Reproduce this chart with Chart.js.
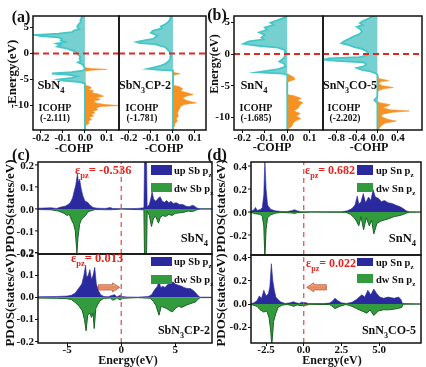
<!DOCTYPE html>
<html lang="en">
<head>
<meta charset="UTF-8">
<title>COHP and PDOS</title>
<script src="https://cdn.jsdelivr.net/npm/chart.js"></script>
<style>
  body { margin: 0; background: #fff; }
  #wrap { position: relative; width: 426px; height: 367px; background: #fff; }
  #wrap canvas { position: absolute; left: 0; top: 0; }
</style>
</head>
<body>
<div id="wrap">
  <canvas id="a1" width="426" height="367"></canvas>
  <canvas id="a2" width="426" height="367"></canvas>
  <canvas id="b1" width="426" height="367"></canvas>
  <canvas id="b2" width="426" height="367"></canvas>
  <canvas id="c1" width="426" height="367"></canvas>
  <canvas id="c2" width="426" height="367"></canvas>
  <canvas id="d1" width="426" height="367"></canvas>
  <canvas id="d2" width="426" height="367"></canvas>
</div>
<script>
// ---- data: [energy (eV), value] ----
const fermiLevel = 0;

// -COHP, negative part (cyan) and positive part (orange)
const sbn4Anti = [[7.2,-0.012],[6.6,-0.018],[6.0,-0.02],[5.5,-0.03],[5.1,-0.035],[4.7,-0.025],[4.4,-0.05],[4.1,-0.06],[3.8,-0.12],[3.55,-0.225],[3.35,-0.2],[3.1,-0.12],[2.8,-0.105],[2.5,-0.11],[2.2,-0.09],[1.9,-0.13],[1.6,-0.11],[1.3,-0.125],[1.0,-0.085],[0.7,-0.065],[0.4,-0.045],[0.1,-0.038],[-0.3,-0.028],[-0.7,-0.02],[-1.0,-0.025],[-1.4,-0.018],[-1.7,-0.032],[-2.0,-0.015],[-2.4,-0.005],[-2.9,0],[-3.3,-0.01],[-3.6,-0.06],[-3.85,-0.15],[-4.1,-0.07],[-4.4,-0.035],[-4.7,-0.06],[-5.0,-0.12],[-5.2,-0.1],[-5.5,-0.02],[-5.8,0],[-14.7,0]];
const sbn4Bond = [[-2.7,0],[-2.9,0.03],[-3.05,0.1],[-3.2,0.03],[-3.4,0],[-6.1,0],[-6.3,0.02],[-6.6,0.03],[-6.9,0.015],[-7.2,0.04],[-7.5,0.03],[-7.8,0.06],[-8.2,0.085],[-8.5,0.05],[-8.8,0.07],[-9.2,0.04],[-9.5,0.05],[-9.8,0.09],[-10.0,0.155],[-10.2,0.07],[-10.5,0.05],[-10.8,0.06],[-11.1,0.035],[-11.4,0.045],[-11.7,0.03],[-12.0,0.04],[-12.3,0.02],[-12.7,0.03],[-13.0,0.015],[-13.4,0.02],[-13.8,0.005],[-14.7,0]];

const sbn3cpAnti = [[7.2,-0.01],[6.6,-0.012],[6.1,-0.02],[5.6,-0.035],[5.2,-0.055],[4.8,-0.05],[4.4,-0.09],[4.0,-0.1],[3.7,-0.085],[3.4,-0.07],[3.1,-0.08],[2.8,-0.09],[2.5,-0.13],[2.2,-0.165],[2.0,-0.15],[1.8,-0.08],[1.5,-0.06],[1.2,-0.035],[0.8,-0.025],[0.3,-0.015],[-0.5,-0.01],[-1.0,-0.012],[-1.5,-0.02],[-2.0,-0.035],[-2.4,-0.06],[-2.7,-0.09],[-2.95,-0.115],[-3.15,-0.06],[-3.3,0],[-14.7,0]];
const sbn3cpBond = [[-3.5,0],[-3.7,0.01],[-3.9,0.032],[-4.1,0.01],[-4.3,0],[-6.1,0],[-6.4,0.03],[-6.8,0.045],[-7.2,0.035],[-7.6,0.07],[-7.9,0.092],[-8.2,0.06],[-8.6,0.045],[-9.0,0.06],[-9.5,0.105],[-9.8,0.05],[-10.2,0.035],[-10.6,0.03],[-11.0,0.025],[-11.5,0.02],[-12.0,0.025],[-12.5,0.015],[-13.0,0.02],[-13.5,0.008],[-14.0,0.005],[-14.7,0]];

const snn4Anti = [[6.0,-0.005],[5.7,-0.015],[5.3,-0.045],[4.95,-0.075],[4.6,-0.06],[4.2,-0.1],[3.8,-0.09],[3.4,-0.125],[3.0,-0.1],[2.6,-0.115],[2.3,-0.105],[2.0,-0.17],[1.6,-0.195],[1.3,-0.13],[1.0,-0.04],[0.6,-0.01],[0.0,-0.01],[-0.5,-0.012],[-0.8,-0.02],[-1.2,-0.035],[-1.5,-0.015],[-2.0,-0.008],[-2.4,-0.04],[-2.7,-0.1],[-2.9,-0.135],[-3.1,-0.02],[-3.3,0],[-12,0]];
const snn4Bond = [[-3.1,0],[-3.4,0.015],[-3.7,0.03],[-4.0,0.035],[-4.3,0.01],[-4.5,0],[-6.4,0],[-6.6,0.03],[-7.0,0.062],[-7.3,0.045],[-7.7,0.07],[-8.1,0.055],[-8.5,0.05],[-9.0,0.03],[-9.4,0.058],[-9.8,0.04],[-10.2,0.06],[-10.6,0.035],[-11.0,0.025],[-11.4,0.02],[-11.7,0.01],[-12,0]];

const snn3coAnti = [[6.0,-0.08],[5.6,-0.17],[5.2,-0.28],[4.9,-0.34],[4.6,-0.28],[4.3,-0.4],[3.9,-0.33],[3.5,-0.3],[3.1,-0.36],[2.7,-0.48],[2.3,-0.58],[2.0,-0.65],[1.7,-0.7],[1.4,-0.55],[1.1,-0.45],[0.8,-0.3],[0.5,-0.22],[0.2,-0.18],[-0.2,-0.2],[-0.5,-0.35],[-0.7,-0.95],[-0.9,-1.05],[-1.1,-0.8],[-1.3,-0.27],[-1.6,-0.22],[-1.9,-0.25],[-2.2,-0.4],[-2.5,-0.3],[-2.8,-0.12],[-3.1,-0.02],[-3.3,0],[-6.8,0],[-7.0,-0.03],[-7.3,-0.06],[-7.6,-0.02],[-7.8,0],[-12,0]];
const snn3coBond = [[-3.3,0],[-3.6,0.01],[-3.9,0.04],[-4.2,0.22],[-4.4,0.06],[-4.7,0.03],[-5.0,0.1],[-5.3,0.31],[-5.5,0.12],[-5.8,0.02],[-6.1,0],[-7.5,0],[-7.7,0.05],[-8.0,0.25],[-8.2,0.2],[-8.5,0.1],[-8.8,0.25],[-9.0,0.62],[-9.2,0.3],[-9.5,0.1],[-9.9,0.08],[-10.3,0.2],[-10.6,0.37],[-10.9,0.15],[-11.3,0.08],[-11.7,0.04],[-12,0.02]];

// PDOS of p_z, spin up (positive) and spin down (negative)
const sbn4Up = [[-7.7,0.003],[-6.5,0.005],[-6.0,0.002],[-5.6,0.008],[-5.2,0.012],[-4.9,0.02],[-4.7,0.03],[-4.5,0.05],[-4.35,0.08],[-4.2,0.11],[-4.05,0.16],[-3.95,0.12],[-3.85,0.135],[-3.7,0.09],[-3.55,0.06],[-3.35,0.035],[-3.1,0.03],[-2.9,0.018],[-2.6,0.006],[-2.2,0.003],[-1.5,0.002],[-1.0,0.006],[-0.8,0.002],[0,0.001],[1.5,0.002],[2.1,0.005],[2.18,0.3],[2.32,0.3],[2.4,0.01],[2.6,0.02],[2.75,0.05],[2.85,0.08],[3.0,0.045],[3.2,0.035],[3.45,0.05],[3.6,0.055],[3.8,0.035],[4.0,0.03],[4.2,0.038],[4.4,0.028],[4.6,0.035],[4.8,0.025],[5.1,0.028],[5.4,0.02],[5.7,0.02],[6.0,0.012],[6.3,0.01],[6.6,0.016],[6.8,0.012],[7.0,0.004],[7.3,0.001],[8.4,0.001]];
const sbn4Dw = [[-7.7,-0.003],[-6.5,-0.004],[-5.8,-0.01],[-5.3,-0.02],[-5.0,-0.03],[-4.8,-0.025],[-4.6,-0.05],[-4.4,-0.07],[-4.25,-0.1],[-4.1,-0.2],[-4.0,-0.13],[-3.85,-0.07],[-3.7,-0.05],[-3.5,-0.04],[-3.3,-0.03],[-3.1,-0.015],[-2.8,-0.008],[-2.4,-0.003],[-1.0,-0.004],[0,-0.001],[2.1,-0.004],[2.18,-0.3],[2.32,-0.3],[2.4,-0.01],[2.6,-0.03],[2.8,-0.08],[3.0,-0.04],[3.2,-0.035],[3.45,-0.065],[3.6,-0.04],[3.85,-0.03],[4.1,-0.035],[4.4,-0.025],[4.7,-0.03],[5.0,-0.02],[5.4,-0.018],[5.8,-0.015],[6.2,-0.01],[6.6,-0.012],[7.0,-0.004],[7.3,-0.001],[8.4,-0.001]];

const sbn3cpUp = [[-7.7,0.003],[-6.0,0.004],[-5.0,0.006],[-4.6,0.01],[-4.25,0.02],[-3.95,0.04],[-3.65,0.06],[-3.45,0.1],[-3.3,0.145],[-3.2,0.09],[-3.05,0.1],[-2.9,0.125],[-2.75,0.08],[-2.6,0.1],[-2.45,0.135],[-2.3,0.06],[-2.1,0.03],[-1.9,0.012],[-1.6,0.004],[-1.2,0.003],[-0.8,0.01],[-0.6,0.012],[-0.4,0.002],[-0.1,0.01],[0.1,0.004],[0.5,0.002],[1.5,0.001],[2.5,0.004],[2.8,0.012],[3.1,0.035],[3.35,0.05],[3.5,0.075],[3.65,0.045],[3.85,0.05],[4.05,0.045],[4.3,0.058],[4.55,0.062],[4.8,0.07],[5.0,0.06],[5.3,0.055],[5.6,0.05],[5.8,0.045],[6.1,0.04],[6.4,0.04],[6.7,0.03],[6.9,0.02],[7.1,0.008],[7.3,0.001],[8.4,0.001]];
const sbn3cpDw = [[-7.7,-0.003],[-6.0,-0.004],[-5.0,-0.006],[-4.6,-0.01],[-4.2,-0.025],[-3.9,-0.04],[-3.6,-0.06],[-3.4,-0.1],[-3.25,-0.15],[-3.1,-0.08],[-2.9,-0.07],[-2.75,-0.09],[-2.6,-0.07],[-2.5,-0.14],[-2.35,-0.05],[-2.15,-0.03],[-1.95,-0.015],[-1.6,-0.004],[-1.0,-0.003],[-0.8,-0.012],[-0.6,-0.01],[-0.4,-0.002],[-0.1,-0.012],[0.1,-0.004],[1.5,-0.001],[2.7,-0.004],[3.0,-0.02],[3.2,-0.035],[3.5,-0.08],[3.7,-0.04],[3.95,-0.045],[4.2,-0.05],[4.5,-0.06],[4.75,-0.065],[5.0,-0.05],[5.3,-0.04],[5.6,-0.045],[6.0,-0.035],[6.3,-0.03],[6.6,-0.025],[6.9,-0.02],[7.1,-0.008],[7.3,-0.001],[8.4,-0.001]];

const snn4Up = [[-3.5,0.005],[-3.3,0.02],[-3.2,0.04],[-3.1,0.015],[-2.9,0.02],[-2.75,0.04],[-2.65,0.15],[-2.58,0.45],[-2.5,0.2],[-2.4,0.06],[-2.2,0.025],[-1.9,0.01],[-1.5,0.005],[-1.1,0.004],[-0.8,0.012],[-0.6,0.02],[-0.45,0.01],[-0.2,0.003],[0.5,0.002],[2.5,0.002],[2.9,0.01],[3.2,0.03],[3.4,0.06],[3.55,0.14],[3.65,0.07],[3.8,0.09],[3.95,0.16],[4.1,0.08],[4.3,0.13],[4.45,0.1],[4.6,0.195],[4.75,0.13],[4.95,0.12],[5.15,0.09],[5.35,0.1],[5.6,0.08],[5.85,0.075],[6.1,0.06],[6.4,0.045],[6.6,0.03],[6.8,0.01],[7.0,0.002],[7.8,0.001]];
const snn4Dw = [[-3.5,-0.004],[-3.2,-0.015],[-2.9,-0.02],[-2.75,-0.04],[-2.65,-0.12],[-2.58,-0.4],[-2.5,-0.15],[-2.4,-0.05],[-2.2,-0.025],[-1.9,-0.01],[-1.5,-0.004],[-0.8,-0.008],[-0.6,-0.012],[-0.4,-0.005],[0.5,-0.001],[2.8,-0.003],[3.1,-0.02],[3.35,-0.05],[3.5,-0.08],[3.65,-0.12],[3.8,-0.04],[3.97,-0.155],[4.15,-0.05],[4.35,-0.12],[4.5,-0.07],[4.65,-0.19],[4.85,-0.1],[5.1,-0.08],[5.35,-0.07],[5.6,-0.06],[6.0,-0.04],[6.4,-0.03],[6.8,-0.01],[7.0,-0.002],[7.8,-0.001]];

const snn3coUp = [[-3.5,0.005],[-3.3,0.01],[-3.1,0.03],[-2.95,0.07],[-2.8,0.05],[-2.65,0.12],[-2.5,0.07],[-2.35,0.09],[-2.25,0.15],[-2.15,0.35],[-2.05,0.2],[-1.95,0.12],[-1.85,0.06],[-1.7,0.04],[-1.55,0.02],[-1.25,0.005],[-0.9,0.01],[-0.7,0.02],[-0.5,0.01],[-0.3,0.005],[-0.15,0.015],[0.1,0.012],[0.3,0.005],[0.7,0.004],[1.3,0.004],[1.7,0.008],[1.9,0.025],[2.07,0.05],[2.25,0.03],[2.5,0.01],[2.85,0.005],[3.2,0.015],[3.5,0.04],[3.85,0.08],[4.05,0.06],[4.25,0.12],[4.45,0.08],[4.65,0.13],[4.85,0.09],[5.05,0.06],[5.3,0.05],[5.6,0.06],[6.0,0.05],[6.3,0.06],[6.45,0.04],[6.55,0.005],[7.8,0.001]];
const snn3coDw = [[-3.5,-0.004],[-3.1,-0.02],[-2.9,-0.05],[-2.65,-0.07],[-2.45,-0.06],[-2.3,-0.12],[-2.2,-0.22],[-2.12,-0.36],[-2.0,-0.15],[-1.85,-0.08],[-1.7,-0.03],[-1.45,-0.01],[-1.1,-0.004],[-0.9,-0.01],[-0.65,-0.02],[-0.45,-0.008],[-0.15,-0.015],[0.15,-0.01],[0.4,-0.003],[1.7,-0.005],[1.85,-0.015],[2.07,-0.04],[2.4,-0.02],[2.8,-0.004],[3.2,-0.02],[3.5,-0.04],[3.85,-0.06],[4.2,-0.08],[4.4,-0.05],[4.65,-0.1],[4.95,-0.06],[5.3,-0.05],[5.7,-0.05],[6.2,-0.04],[6.5,-0.03],[6.6,-0.002],[7.8,-0.001]];

// axis limits and tick labels
const cohpRangeA1 = [-0.236, 0.155];
const cohpRangeA2 = [-0.245, 0.15];
const cohpRangeB1 = [-0.237, 0.159];
const cohpRangeB2 = [-1.06, 0.87];
const energyRangeA = [-14.7, 7.2];
const energyRangeB = [-12, 6];
const cohpTicksSmall = [-0.2, -0.1, 0, 0.1];
const cohpTicksLarge = [-0.8, -0.4, 0, 0.4];
const energyTicksCohp = [5, 0, -5, -10];
const energyRangeC = [-7.7, 8.4];
const energyRangeD = [-3.5, 7.78];
const energyTicksC = [-5, 0, 5];
const energyTicksD = [-2.5, 0, 2.5, 5];
const pdosRangeC1 = [-0.205, 0.213];
const pdosRangeC2 = [-0.205, 0.195];
const pdosRangeD1 = [-0.374, 0.435];
const pdosRangeD2 = [-0.339, 0.426];
const pdosTicksC = [-0.2, -0.1, 0, 0.1, 0.2];
const pdosTicksD = [-0.2, 0, 0.2, 0.4];
// shift arrows: [from energy, to energy, height]
const arrowSb = [-2.1, -0.15, 0.045];
const arrowSn = [1.5, 0.2, 0.145];

// ---- drawing ----
const W = 426, H = 367;
const SERIF = '"Liberation Serif", "Times New Roman", serif';
const CYAN = 'rgb(118,208,208)', CYAN_LINE = 'rgb(70,198,198)', ORANGE = 'rgb(247,146,34)';
const NAVY = 'rgb(42,42,158)', GREEN = 'rgb(50,155,62)', GREEN_LINE = 'rgb(26,96,36)';
const RED = 'rgb(226,38,32)';
const charts = {};

const cohpPts = list => list.map(([e, v]) => ({x: v, y: e}));
const dosPts = list => list.map(([e, v]) => ({x: e, y: v}));
const f1 = v => v.toFixed(1);
const f0 = v => String(v);

function richText(ctx, str, x, y, size, color, align, rot) {
  const parts = [];
  str.split(/(_\{[^}]*\})/).forEach(p => {
    if (!p) return;
    if (p.startsWith('_{')) parts.push({t: p.slice(2, -1), sub: true});
    else parts.push({t: p, sub: false});
  });
  ctx.save();
  ctx.translate(x, y);
  if (rot) ctx.rotate(rot * Math.PI / 180);
  ctx.fillStyle = color;
  ctx.textAlign = 'left';
  ctx.textBaseline = 'alphabetic';
  let total = 0;
  parts.forEach(p => {
    ctx.font = 'bold ' + (p.sub ? size * 0.68 : size) + 'px ' + SERIF;
    p.w = ctx.measureText(p.t).width;
    total += p.w;
  });
  let cx = align === 'center' ? -total / 2 : align === 'right' ? -total : 0;
  parts.forEach(p => {
    ctx.font = 'bold ' + (p.sub ? size * 0.68 : size) + 'px ' + SERIF;
    ctx.fillText(p.t, cx, size * 0.35 + (p.sub ? size * 0.28 : 0));
    cx += p.w;
  });
  ctx.restore();
}

function drawArrow(chart, a) {
  const ctx = chart.ctx;
  const x1 = chart.scales.x.getPixelForValue(a[0]);
  const x2 = chart.scales.x.getPixelForValue(a[1]);
  const y = chart.scales.y.getPixelForValue(a[2]);
  const dir = Math.sign(x2 - x1), head = 7, hw = 4.5, sw = 2.6;
  const g = ctx.createLinearGradient(0, y - hw, 0, y + hw);
  g.addColorStop(0, '#f7c9a6');
  g.addColorStop(0.5, '#e9865a');
  g.addColorStop(1, '#f3b08a');
  ctx.save();
  ctx.beginPath();
  ctx.moveTo(x1, y - sw);
  ctx.lineTo(x2 - dir * head, y - sw);
  ctx.lineTo(x2 - dir * head, y - hw);
  ctx.lineTo(x2, y);
  ctx.lineTo(x2 - dir * head, y + hw);
  ctx.lineTo(x2 - dir * head, y + sw);
  ctx.lineTo(x1, y + sw);
  ctx.closePath();
  ctx.fillStyle = g;
  ctx.fill();
  ctx.strokeStyle = '#b9573b';
  ctx.lineWidth = 0.8;
  ctx.stroke();
  ctx.restore();
}

const framePlugin = {
  id: 'frame',
  afterDatasetsDraw(chart) {
    const {ctx, chartArea: a} = chart;
    ctx.save();
    ctx.strokeStyle = '#111';
    ctx.lineWidth = 1.5;
    ctx.strokeRect(a.left, a.top, a.right - a.left, a.bottom - a.top);
    ctx.restore();
  }
};

// y tick labels of another chart's y scale, written on this (later, upper) canvas
function drawYLabels(ctx, src, ticks, fmt) {
  if (!src) return;
  const a = src.chartArea, y = src.scales.y;
  ticks.forEach(v => {
    const py = y.getPixelForValue(v);
    richText(ctx, fmt(v), a.left - 4, py, 11, '#111', 'right', 0);
    ctx.save();
    ctx.strokeStyle = '#111';
    ctx.lineWidth = 1;
    ctx.beginPath();
    ctx.moveTo(a.left - 3, py);
    ctx.lineTo(a.left, py);
    ctx.stroke();
    ctx.restore();
  });
}

const topLabelsPlugin = {
  id: 'topLabels',
  afterDraw(chart) {
    drawYLabels(chart.ctx, charts.c1, pdosTicksC, f1);
    drawYLabels(chart.ctx, charts.d1, pdosTicksD, f1);
  }
};

function notesPlugin(items) {
  return {
    id: 'notes',
    afterDraw(chart) {
      const ctx = chart.ctx;
      items.forEach(it => {
        if (it.box) {
          ctx.fillStyle = it.c;
          ctx.fillRect(it.box[0], it.box[1], it.box[2], it.box[3]);
        } else if (it.arrow) {
          drawArrow(chart, it.arrow);
        } else {
          richText(ctx, it.t, it.x, it.y, it.s || 12, it.c || '#111', it.al || 'center', it.rot || 0);
        }
      });
    }
  };
}

// axis box size is fixed in afterFit; a "hidden" axis keeps its box but draws no labels or ticks
function axis(range, ticks, fmt, fit, show, pad) {
  return {
    type: 'linear',
    min: range[0],
    max: range[1],
    afterBuildTicks: s => { s.ticks = ticks.map(v => ({value: v})); },
    afterFit: fit,
    grid: {display: show, drawOnChartArea: false, drawTicks: show, tickLength: 3, color: '#111'},
    border: {display: false},
    ticks: {display: show, font: {family: SERIF, size: 11, weight: 'bold'}, color: '#111', padding: pad,
            autoSkip: false, maxRotation: 0, callback: v => fmt(v)}
  };
}

function build(id, o) {
  const a = o.area;
  const yShow = o.yShow !== false && !o.yManual, xShow = o.xShow !== false;
  const plugins = [framePlugin, notesPlugin(o.notes || [])].concat(o.extra || []);
  charts[id] = new Chart(document.getElementById(id), {
    type: 'line',
    data: {datasets: o.datasets},
    options: {
      responsive: false,
      animation: false,
      events: [],
      indexAxis: o.indexAxis || 'x',
      layout: {padding: {left: 0, top: a.t, right: W - a.r, bottom: 0}},
      elements: {point: {radius: 0}, line: {tension: 0}},
      scales: {
        x: axis(o.xr, o.xTicks, o.xFmt, s => { s.height = H - a.b; }, xShow, o.xPad || 0),
        y: axis(o.yr, o.yTicks, o.yFmt, s => { s.width = a.l; }, yShow, 1)
      },
      plugins: {legend: {display: false}, tooltip: {enabled: false}}
    },
    plugins: plugins
  });
  return charts[id];
}

function cohpSets(anti, bond, range) {
  return [
    {data: [{x: range[0], y: fermiLevel}, {x: range[1], y: fermiLevel}], borderColor: RED,
     borderWidth: 1.8, borderDash: [6, 4], fill: false},
    {data: cohpPts(anti), borderColor: CYAN_LINE, borderWidth: 1.8, backgroundColor: CYAN, fill: 'origin'},
    {data: cohpPts(bond), borderColor: ORANGE, borderWidth: 0.6, backgroundColor: ORANGE, fill: 'origin'}
  ];
}

function pdosSets(up, dw, range) {
  return [
    {data: [{x: fermiLevel, y: range[0]}, {x: fermiLevel, y: range[1]}], borderColor: 'rgb(230,70,70)',
     borderWidth: 1.2, borderDash: [5, 4], fill: false},
    {data: dosPts(dw), borderColor: GREEN_LINE, borderWidth: 1, backgroundColor: GREEN, fill: 'origin'},
    {data: dosPts(up), borderColor: NAVY, borderWidth: 0.6, backgroundColor: NAVY, fill: 'origin'}
  ];
}

// (a) SbN4 / SbN3CP-2 COHP
build('a1', {
  indexAxis: 'y', area: {l: 33, t: 16, r: 119, b: 130},
  xr: cohpRangeA1, xTicks: cohpTicksSmall, xFmt: f1, xPad: -1,
  yr: energyRangeA, yTicks: energyTicksCohp, yFmt: f0,
  datasets: cohpSets(sbn4Anti, sbn4Bond, cohpRangeA1),
  notes: [
    {t: '(a)', x: 21, y: 16, s: 16},
    {t: '-Energy(eV)', x: 11, y: 74, s: 13, rot: -90},
    {t: '-COHP', x: 74, y: 148, s: 12},
    {t: 'SbN_{4}', x: 51, y: 85, s: 12.5},
    {t: 'ICOHP', x: 55, y: 107, s: 10},
    {t: '(-2.111)', x: 55, y: 118, s: 9.5}
  ]
});
build('a2', {
  indexAxis: 'y', area: {l: 119, t: 16, r: 206, b: 130}, yShow: false,
  xr: cohpRangeA2, xTicks: cohpTicksSmall, xFmt: f1, xPad: -1,
  yr: energyRangeA, yTicks: energyTicksCohp, yFmt: f0,
  datasets: cohpSets(sbn3cpAnti, sbn3cpBond, cohpRangeA2),
  notes: [
    {t: '-COHP', x: 164, y: 148, s: 12},
    {t: 'SbN_{3}CP-2', x: 145, y: 85, s: 12},
    {t: 'ICOHP', x: 142, y: 107, s: 10},
    {t: '(-1.781)', x: 142, y: 118, s: 9.5}
  ]
});

// (b) SnN4 / SnN3CO-5 COHP
build('b1', {
  indexAxis: 'y', area: {l: 234, t: 16, r: 323, b: 130},
  xr: cohpRangeB1, xTicks: cohpTicksSmall, xFmt: f1, xPad: -1,
  yr: energyRangeB, yTicks: energyTicksCohp, yFmt: f0,
  datasets: cohpSets(snn4Anti, snn4Bond, cohpRangeB1),
  notes: [
    {t: '(b)', x: 217, y: 14, s: 16},
    {t: 'Energy(eV)', x: 214, y: 64, s: 12, rot: -90},
    {t: '-COHP', x: 272, y: 147, s: 12},
    {t: 'SnN_{4}', x: 254, y: 85, s: 12.5},
    {t: 'ICOHP', x: 256, y: 107, s: 10},
    {t: '(-1.685)', x: 256, y: 118, s: 9.5}
  ]
});
build('b2', {
  indexAxis: 'y', area: {l: 323, t: 16, r: 422, b: 130}, yShow: false,
  xr: cohpRangeB2, xTicks: cohpTicksLarge, xFmt: f1, xPad: -1,
  yr: energyRangeB, yTicks: energyTicksCohp, yFmt: f0,
  datasets: cohpSets(snn3coAnti, snn3coBond, cohpRangeB2),
  notes: [
    {t: '-COHP', x: 369, y: 147, s: 12},
    {t: 'SnN_{3}CO-5', x: 350, y: 85, s: 12},
    {t: 'ICOHP', x: 344, y: 107, s: 10},
    {t: '(-2.202)', x: 345, y: 118, s: 9.5}
  ]
});

// (c) Sb p_z PDOS
build('c1', {
  area: {l: 38, t: 162, r: 212, b: 254}, xShow: false, yManual: true,
  xr: energyRangeC, xTicks: energyTicksC, xFmt: f0,
  yr: pdosRangeC1, yTicks: pdosTicksC, yFmt: f1,
  datasets: pdosSets(sbn4Up, sbn4Dw, pdosRangeC1),
  notes: [
    {t: '(c)', x: 21, y: 154, s: 16},
    {t: 'PDOS(states/eV)', x: 9, y: 206, s: 13, rot: -90},
    {box: [151, 165, 21, 10], c: NAVY},
    {t: 'up Sb p_{z}', x: 174, y: 170, s: 10.5, al: 'left'},
    {box: [151, 183, 21, 9], c: GREEN},
    {t: 'dw Sb p_{z}', x: 174, y: 188, s: 10.5, al: 'left'},
    {t: 'ε_{pz}= -0.536', x: 75, y: 170, s: 12.5, c: RED, al: 'left'},
    {t: 'SbN_{4}', x: 208, y: 238, s: 12.5, al: 'right'}
  ]
});
build('c2', {
  area: {l: 38, t: 254, r: 212, b: 343},
  xr: energyRangeC, xTicks: energyTicksC, xFmt: f0, xPad: -2,
  yr: pdosRangeC2, yTicks: pdosTicksC, yFmt: f1,
  datasets: pdosSets(sbn3cpUp, sbn3cpDw, pdosRangeC2),
  notes: [
    {t: 'PDOS(states/eV)', x: 9, y: 300, s: 13, rot: -90},
    {t: 'Energy(eV)', x: 128, y: 360, s: 12},
    {box: [151, 257, 21, 9], c: NAVY},
    {t: 'up Sb p_{z}', x: 174, y: 261, s: 10.5, al: 'left'},
    {box: [151, 275, 21, 9], c: GREEN},
    {t: 'dw Sb p_{z}', x: 174, y: 279, s: 10.5, al: 'left'},
    {t: 'ε_{pz}= 0.013', x: 71, y: 258, s: 12.5, c: RED, al: 'left'},
    {t: 'SbN_{3}CP-2', x: 210, y: 330, s: 12, al: 'right'},
    {arrow: arrowSb}
  ]
});

// (d) Sn p_z PDOS
build('d1', {
  area: {l: 251, t: 162, r: 421, b: 255}, xShow: false, yManual: true,
  xr: energyRangeD, xTicks: energyTicksD, xFmt: f1,
  yr: pdosRangeD1, yTicks: pdosTicksD, yFmt: f1,
  datasets: pdosSets(snn4Up, snn4Dw, pdosRangeD1),
  notes: [
    {t: '(d)', x: 217, y: 154, s: 16},
    {t: 'PDOS(states/eV)', x: 220, y: 206, s: 13, rot: -90},
    {box: [357, 165, 16, 10], c: NAVY},
    {t: 'up Sn p_{z}', x: 376, y: 170, s: 10.5, al: 'left'},
    {box: [357, 183, 16, 9], c: GREEN},
    {t: 'dw Sn p_{z}', x: 376, y: 188, s: 10.5, al: 'left'},
    {t: 'ε_{pz}= 0.682', x: 305, y: 170, s: 12, c: RED, al: 'left'},
    {t: 'SnN_{4}', x: 416, y: 238, s: 12.5, al: 'right'}
  ]
});
// the last canvas also writes the y labels of the two upper PDOS panels
build('d2', {
  area: {l: 251, t: 255, r: 421, b: 343},
  xr: energyRangeD, xTicks: energyTicksD, xFmt: f1, xPad: -2,
  yr: pdosRangeD2, yTicks: pdosTicksD, yFmt: f1,
  datasets: pdosSets(snn3coUp, snn3coDw, pdosRangeD2),
  extra: [topLabelsPlugin],
  notes: [
    {t: 'PDOS(states/eV)', x: 220, y: 300, s: 13, rot: -90},
    {t: 'Energy(eV)', x: 332, y: 360, s: 12},
    {box: [357, 258, 16, 8], c: NAVY},
    {t: 'up Sn p_{z}', x: 376, y: 262, s: 10.5, al: 'left'},
    {box: [357, 274, 16, 9], c: GREEN},
    {t: 'dw Sn p_{z}', x: 376, y: 279, s: 10.5, al: 'left'},
    {t: 'ε_{pz}= 0.022', x: 306, y: 263, s: 12, c: RED, al: 'left'},
    {t: 'SnN_{3}CO-5', x: 416, y: 330, s: 12, al: 'right'},
    {arrow: arrowSn}
  ]
});
</script>
</body>
</html>
